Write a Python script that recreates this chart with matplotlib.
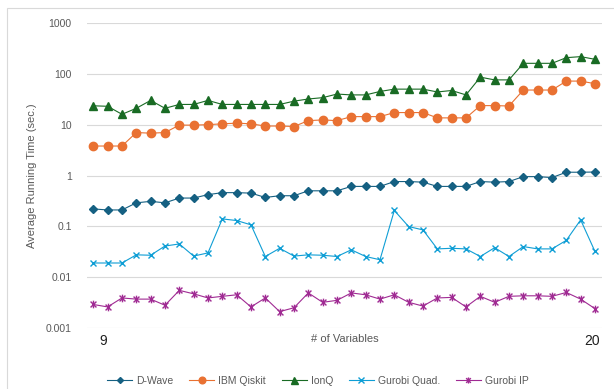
import matplotlib
matplotlib.use("Agg")
import matplotlib.pyplot as plt
from matplotlib.path import Path
from matplotlib.patches import Rectangle

# running times (sec.), 36 runs, 9 .. 20 variables
dwave = [0.22, 0.21, 0.21, 0.29, 0.31, 0.29, 0.36, 0.36, 0.42, 0.46, 0.46, 0.45,
         0.37, 0.40, 0.40, 0.50, 0.50, 0.50, 0.61, 0.61, 0.61, 0.76, 0.76, 0.74,
         0.61, 0.61, 0.61, 0.76, 0.74, 0.76, 0.95, 0.95, 0.91, 1.16, 1.16, 1.17]
ibm = [3.8, 3.8, 3.8, 7.0, 6.8, 7.0, 9.8, 9.8, 10.0, 10.4, 10.7, 10.4,
       9.4, 9.4, 9.2, 12.0, 12.4, 12.0, 14.4, 14.4, 14.4, 17.3, 17.3, 17.3,
       13.6, 13.6, 13.6, 23.7, 23.7, 23.3, 48, 48, 48, 72, 72, 64]
ionq = [23.5, 23, 16, 21, 30, 21, 25, 25, 30, 25, 25, 25,
        25, 25, 29, 32, 34, 40, 38.5, 38.5, 45, 50, 50, 50,
        44, 47, 38.5, 86, 76, 76, 161, 161, 161, 208, 218, 193]
gquad = [0.019, 0.019, 0.019, 0.0275, 0.027, 0.041, 0.045, 0.026, 0.030, 0.140, 0.130, 0.107,
         0.0255, 0.037, 0.026, 0.0275, 0.027, 0.0255, 0.0345, 0.0255, 0.022, 0.205, 0.099, 0.085,
         0.036, 0.037, 0.036, 0.0255, 0.038, 0.0255, 0.040, 0.036, 0.036, 0.053, 0.134, 0.032]
gip = [0.0029, 0.0026, 0.0039, 0.0037, 0.0037, 0.0028, 0.0055, 0.0047, 0.0039, 0.0042, 0.0045, 0.0026,
       0.0039, 0.0021, 0.0025, 0.0049, 0.0032, 0.0035, 0.0049, 0.0045, 0.0037, 0.0045, 0.0032, 0.0027,
       0.0039, 0.0040, 0.0026, 0.0042, 0.0032, 0.0042, 0.0043, 0.0043, 0.0042, 0.0050, 0.0037, 0.0024]
names = ["D-Wave", "IBM Qiskit", "IonQ", "Gurobi Quad.", "Gurobi IP"]
tick_labels = ["9", "20"]
yticks = [0.001, 0.01, 0.1, 1, 10, 100, 1000]
ytick_labels = ["0.001", "0.01", "0.1", "1", "10", "100", "1000"]

x = list(range(len(dwave)))

plt.rcParams['font.family'] = ['Liberation Sans', 'DejaVu Sans']

# excel style "star" marker (x with a vertical bar)
star = Path([(-1, -1), (1, 1), (-1, 1), (1, -1), (0, -1.3), (0, 1.3)],
            [Path.MOVETO, Path.LINETO, Path.MOVETO, Path.LINETO, Path.MOVETO, Path.LINETO])

fig = plt.figure(figsize=(6.14, 3.89), dpi=100)
fig.patches.append(Rectangle((7 / 614, -0.5), 2, 1.5 - 8 / 389, transform=fig.transFigure,
                             fill=False, ec="#d9d9d9", lw=0.8))
ax = fig.add_axes([87 / 614, 1 - 328 / 389, 515 / 614, 305 / 389])

ax.plot(x, dwave, color="#156082", lw=0.8, marker="D", ms=3.8, label=names[0])
ax.plot(x, ibm, color="#E97132", lw=0.8, marker="o", ms=6, label=names[1])
ax.plot(x, ionq, color="#196B24", lw=0.8, marker="^", ms=6.3, label=names[2])
ax.plot(x, gquad, color="#0F9ED5", lw=0.8, marker="x", ms=5, mew=1.0, label=names[3])
ax.plot(x, gip, color="#A02B93", lw=0.8, marker=star, ms=5.5, mew=1.0, mfc="none", label=names[4])

ax.set_yscale("log")
ax.set_ylim(0.001, 1000)
ax.set_xlim(-0.44, 35.49)
ax.set_yticks(yticks)
ax.set_yticklabels(ytick_labels)
ax.minorticks_off()
ax.set_xticks([0.7, 34.8])
ax.set_xticklabels(tick_labels)
ax.tick_params(axis="y", length=0, pad=11, labelsize=7.5, labelcolor="#595959")
ax.tick_params(axis="x", length=0, pad=4, labelsize=10, labelcolor="#202020")
ax.grid(axis="y", color="#d9d9d9", lw=0.8)
ax.set_axisbelow(True)
for s in ax.spines.values():
    s.set_visible(False)

ax.set_xlabel("# of Variables", fontsize=8, color="#595959", va="center")
ax.xaxis.set_label_coords(0.5, -0.036)
ax.set_ylabel("Average Running Time (sec.)", fontsize=8, color="#595959", va="center")
ax.yaxis.set_label_coords(-0.107, 0.5)

fig.legend(loc="center", bbox_to_anchor=(318 / 614, 1 - 381 / 389), ncol=5, frameon=False,
           fontsize=7.5, labelcolor="#595959", handlelength=2.4, handletextpad=0.4,
           columnspacing=1.5, markerscale=0.8)

fig.savefig("out.png", dpi=100)
